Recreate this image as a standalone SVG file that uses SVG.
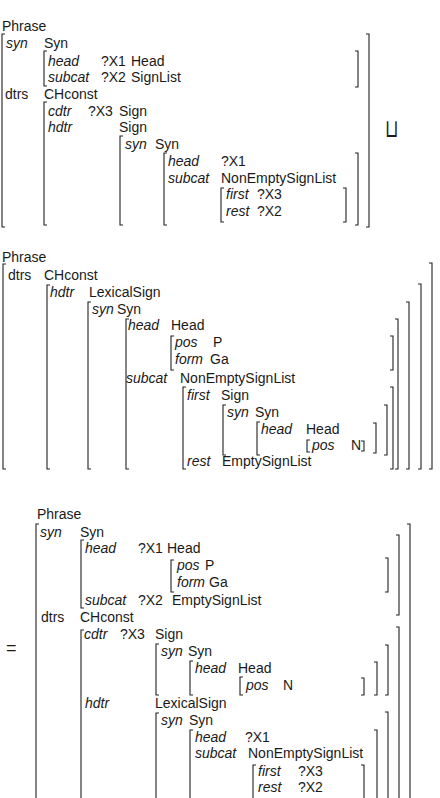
<svg xmlns="http://www.w3.org/2000/svg" width="440" height="798" viewBox="0 0 440 798">
<style>
text{font-family:"Liberation Sans","Open Sans",sans-serif;font-size:14px;fill:#1a1a1a}
.i{font-style:italic}
.b{fill:none;stroke:#222;stroke-width:1.1}
</style>
<rect width="440" height="798" fill="#fff"/>
<g id="avm1">
<text x="2" y="31">Phrase</text>
<path class="b" d="M5 34H2V227H5M366 34H369V227H366"/>
<text class="i" x="6" y="48">syn</text><text x="44" y="48">Syn</text>
<path class="b" d="M47 51H44V86H47M355 51H358V87H355"/>
<text class="i" x="48" y="66">head</text><text x="101" y="66">?X1</text><text x="131" y="66">Head</text>
<text class="i" x="48" y="82">subcat</text><text x="101" y="82">?X2</text><text x="131" y="82">SignList</text>
<text x="5" y="99">dtrs</text><text x="44" y="99">CHconst</text>
<path class="b" d="M47 102H44V225H47"/>
<text class="i" x="48" y="116">cdtr</text><text x="88" y="116">?X3</text><text x="119" y="116">Sign</text>
<text class="i" x="48" y="132">hdtr</text><text x="119" y="132">Sign</text>
<path class="b" d="M123 136H120V225H123"/>
<text class="i" x="125" y="149">syn</text><text x="155" y="149">Syn</text>
<path class="b" d="M167 153H164V225H167M355 153H358V225H355"/>
<text class="i" x="168" y="166">head</text><text x="221" y="166">?X1</text>
<text class="i" x="168" y="183">subcat</text><text x="221" y="183">NonEmptySignList</text>
<path class="b" d="M224 188H221V222H224M343 188H346V222H343"/>
<text class="i" x="226" y="199">first</text><text x="257" y="199">?X3</text>
<text class="i" x="226" y="216">rest</text><text x="257" y="216">?X2</text>
<text transform="translate(384.5,137) scale(1,1.45)" style="font-family:'DejaVu Sans',sans-serif;font-size:17px;font-weight:200">⊔</text>
</g>
<g id="avm2">
<text x="2" y="262">Phrase</text>
<path class="b" d="M6 264H3V469H6M429 263H432V469H429"/>
<text x="8" y="280">dtrs</text><text x="44" y="280">CHconst</text>
<path class="b" d="M50 285H47V469H50M418 284H421V469H418"/>
<text class="i" x="50" y="297">hdtr</text><text x="89" y="297">LexicalSign</text>
<path class="b" d="M91 302H88V469H91M406 302H409V469H406"/>
<text class="i" x="92" y="314">syn</text><text x="117" y="314">Syn</text>
<path class="b" d="M129 319H126V469H129M395 319H398V469H395"/>
<text class="i" x="128" y="330">head</text><text x="171" y="330">Head</text>
<path class="b" d="M174 336H171V370H174M390 336H393V370H390"/>
<text class="i" x="175" y="347">pos</text><text x="213" y="347">P</text>
<text class="i" x="175" y="364">form</text><text x="210" y="364">Ga</text>
<text class="i" x="126" y="383">subcat</text><text x="180" y="383">NonEmptySignList</text>
<path class="b" d="M186 387H183V469H186M390 387H393V469H390"/>
<text class="i" x="187" y="400">first</text><text x="221" y="400">Sign</text>
<path class="b" d="M226 405H223V455H226M384 405H387V455H384"/>
<text class="i" x="227" y="417">syn</text><text x="255" y="417">Syn</text>
<path class="b" d="M260 422H257V455H260M373 423H376V453H373"/>
<text class="i" x="261" y="434">head</text><text x="306" y="434">Head</text>
<path class="b" d="M310 440H307V452H310M361 441H364V451H361"/>
<text class="i" x="312" y="450">pos</text><text x="351" y="450">N</text>
<text class="i" x="187" y="466">rest</text><text x="222" y="466">EmptySignList</text>
</g>
<g id="avm3">
<text x="37" y="519">Phrase</text>
<text x="6" y="654" style="font-size:18px">=</text>
<path class="b" d="M39 524H36V800M407 524H410V800"/>
<text class="i" x="40" y="537">syn</text><text x="80" y="537">Syn</text>
<path class="b" d="M84 540H81V608H84M396 535H399V615H396"/>
<text class="i" x="85" y="553">head</text><text x="138" y="553">?X1</text><text x="167" y="553">Head</text>
<path class="b" d="M174 560H171V592H174M385 558H388V592H385"/>
<text class="i" x="177" y="570">pos</text><text x="205" y="570">P</text>
<text class="i" x="177" y="587">form</text><text x="209" y="587">Ga</text>
<text class="i" x="85" y="605">subcat</text><text x="138" y="605">?X2</text><text x="172" y="605">EmptySignList</text>
<text x="41" y="622">dtrs</text><text x="80" y="622">CHconst</text>
<path class="b" d="M84 630H81V800M396 627H399V800"/>
<text class="i" x="84" y="639">cdtr</text><text x="120" y="639">?X3</text><text x="155" y="639">Sign</text>
<path class="b" d="M159 644H156V695H159M385 645H388V695H385"/>
<text class="i" x="161" y="656">syn</text><text x="188" y="656">Syn</text>
<path class="b" d="M193 661H190V695H193M374 662H377V695H374"/>
<text class="i" x="195" y="673">head</text><text x="238" y="673">Head</text>
<path class="b" d="M243 677H240V695H243M361 678H364V695H361"/>
<text class="i" x="246" y="690">pos</text><text x="283" y="690">N</text>
<text class="i" x="85" y="708">hdtr</text><text x="155" y="708">LexicalSign</text>
<path class="b" d="M159 713H156V800M385 712H388V800"/>
<text class="i" x="161" y="725">syn</text><text x="189" y="725">Syn</text>
<path class="b" d="M193 730H190V800M374 730H377V800"/>
<text class="i" x="195" y="742">head</text><text x="245" y="742">?X1</text>
<text class="i" x="195" y="758">subcat</text><text x="248" y="758">NonEmptySignList</text>
<path class="b" d="M256 765H253V800M361 765H364V800"/>
<text class="i" x="258" y="776">first</text><text x="298" y="776">?X3</text>
<text class="i" x="258" y="792">rest</text><text x="298" y="792">?X2</text>
</g>
</svg>
